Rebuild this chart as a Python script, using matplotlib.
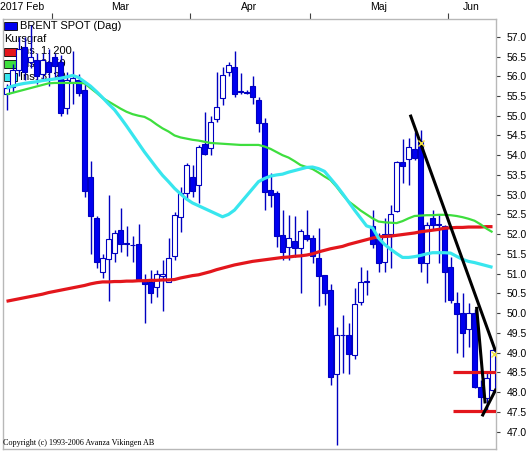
import numpy as np
import matplotlib.pyplot as plt
from matplotlib.patches import Rectangle

# candle data, one per trading day (Feb 17 - Jun 12 2017)
opens = [55.55, 55.72, 56.15, 56.75, 56.35, 56.4, 56.05, 56.35, 56.5, 56.35,
         55.2, 55.85, 55.9, 55.65, 53.45, 52.4, 51.05, 51.37, 51.52, 52.1,
         51.77, 51.73, 51.75, 50.85, 50.8, 50.67, 50.95, 50.8, 51.44, 52.43,
         53.04, 53.45, 53.24, 54.28, 54.18, 54.91, 55.44, 56.1, 56.23, 55.63,
         55.6, 55.75, 55.41, 54.81, 53.12, 53.04, 51.98, 51.67, 51.82, 51.64,
         51.98, 51.9, 51.39, 50.96, 50.58, 48.46, 49.44, 49.45, 48.94, 50.28,
         50.8, 52.2, 51.87, 51.3, 52.0, 52.58, 53.83, 53.9, 54.15, 54.35,
         51.27, 52.4, 52.25, 52.2, 51.17, 50.25, 50.0, 49.59, 50.0, 48.13,
         47.84, 48.05]
highs = [55.8, 56.3, 57.0, 57.0, 57.3, 56.6, 56.6, 56.7, 56.6, 56.55,
         56.1, 56.65, 56.05, 55.8, 53.85, 52.45, 51.5, 53.0, 52.1, 52.65,
         52.2, 51.95, 52.25, 51.0, 51.1, 51.08, 51.35, 51.9, 52.55, 53.2,
         53.8, 53.75, 54.25, 55.1, 55.0, 56.1, 56.23, 56.35, 56.65, 56.08,
         55.65, 56.0, 55.47, 54.95, 53.55, 53.1, 52.6, 52.48, 52.45, 52.12,
         52.6, 51.98, 52.15, 50.97, 50.74, 49.65, 49.95, 49.75, 50.63, 51.17,
         51.1, 52.6, 52.03, 52.4, 52.75, 53.85, 54.4, 54.43, 54.6, 54.65,
         52.3, 52.6, 52.5, 52.22, 51.42, 50.54, 50.5, 50.25, 50.1, 48.3,
         48.5, 49.1]
lows = [55.15, 55.6, 56.0, 55.9, 56.2, 55.8, 55.9, 55.75, 55.95, 55.0,
        55.05, 55.3, 55.5, 52.95, 51.5, 51.15, 50.9, 50.3, 51.3, 51.55,
        51.45, 51.3, 50.85, 49.75, 50.25, 50.4, 50.05, 50.78, 51.35, 52.05,
        52.9, 52.95, 52.8, 54.0, 54.0, 54.85, 55.27, 56.0, 55.47, 55.55,
        55.55, 55.3, 54.6, 52.6, 52.68, 51.67, 51.35, 51.35, 51.42, 50.5,
        51.83, 51.27, 50.18, 50.2, 48.18, 46.66, 48.48, 48.46, 48.84, 50.2,
        50.45, 51.65, 51.04, 51.04, 51.15, 52.55, 53.3, 53.25, 53.88, 51.05,
        50.76, 52.1, 51.27, 50.28, 50.25, 49.0, 48.9, 49.14, 48.1, 47.55,
        47.55, 48.0]
closes = [55.7, 56.15, 56.7, 56.1, 56.5, 56.0, 56.4, 56.1, 56.25, 55.07,
          55.9, 55.95, 55.57, 53.1, 52.45, 51.3, 51.4, 51.87, 52.03, 51.75,
          51.75, 51.72, 50.86, 50.73, 50.5, 51.0, 51.0, 51.4, 52.48, 53.04,
          53.75, 53.09, 54.2, 54.03, 54.84, 55.21, 56.03, 56.28, 55.55, 55.6,
          55.58, 55.47, 54.81, 53.07, 53.0, 51.95, 51.55, 51.9, 51.64, 52.08,
          51.87, 51.45, 50.94, 50.51, 48.38, 49.45, 49.45, 48.97, 50.23, 50.79,
          50.82, 51.75, 51.27, 52.0, 52.5, 53.83, 53.72, 54.2, 53.92, 51.27,
          52.23, 52.23, 52.23, 51.04, 50.33, 49.97, 49.49, 50.0, 48.13, 47.88,
          48.35, 49.06]

# moving averages
ma200 = [50.3, 50.33, 50.36, 50.39, 50.42, 50.45, 50.48, 50.52, 50.55, 50.58,
         50.61, 50.64, 50.67, 50.7, 50.74, 50.77, 50.79, 50.79, 50.8, 50.8,
         50.81, 50.81, 50.82, 50.82, 50.83, 50.83, 50.84, 50.84, 50.85, 50.89,
         50.92, 50.95, 50.97, 51.01, 51.05, 51.1, 51.14, 51.18, 51.22, 51.25,
         51.28, 51.31, 51.33, 51.35, 51.37, 51.39, 51.41, 51.42, 51.44, 51.45,
         51.47, 51.5, 51.55, 51.59, 51.63, 51.66, 51.69, 51.74, 51.78, 51.82,
         51.86, 51.9, 51.93, 51.94, 51.95, 51.97, 51.99, 52.01, 52.03, 52.06,
         52.08, 52.1, 52.12, 52.15, 52.16, 52.17, 52.17, 52.18, 52.18, 52.18,
         52.19, 52.19]
ma50 = [55.54, 55.58, 55.62, 55.66, 55.7, 55.74, 55.78, 55.82, 55.83, 55.83,
        55.83, 55.83, 55.83, 55.82, 55.7, 55.58, 55.45, 55.36, 55.27, 55.18,
        55.1, 55.04, 55.0, 54.97, 54.89, 54.78, 54.68, 54.6, 54.5, 54.45,
        54.42, 54.39, 54.37, 54.34, 54.31, 54.3, 54.29, 54.28, 54.27, 54.26,
        54.26, 54.26, 54.26, 54.22, 54.16, 54.08, 54.0, 53.94, 53.85, 53.75,
        53.7, 53.65, 53.56, 53.46, 53.37, 53.2, 53.0, 52.83, 52.72, 52.6,
        52.5, 52.4, 52.32, 52.3, 52.29, 52.28, 52.33, 52.4, 52.46, 52.47,
        52.48, 52.48, 52.49, 52.49, 52.48, 52.46, 52.43, 52.39, 52.34, 52.25,
        52.14, 52.05]
ma20 = [55.7, 55.75, 55.79, 55.82, 55.84, 55.86, 55.89, 55.91, 55.93, 55.95,
        55.98, 56.02, 55.97, 55.86, 55.75, 55.61, 55.46, 55.3, 55.15, 54.95,
        54.74, 54.52, 54.3, 54.08, 53.88, 53.68, 53.49, 53.33, 53.16, 53.02,
        52.89, 52.79, 52.72, 52.65, 52.58, 52.51, 52.44, 52.5, 52.61, 52.79,
        52.97, 53.15, 53.33, 53.41, 53.47, 53.5, 53.52, 53.57, 53.61, 53.65,
        53.69, 53.7, 53.66, 53.59, 53.41, 53.23, 53.03, 52.82, 52.61, 52.41,
        52.21, 52.16, 51.9, 51.74, 51.62, 51.51, 51.41, 51.41, 51.43, 51.46,
        51.5, 51.53, 51.53, 51.53, 51.52, 51.44, 51.36, 51.31, 51.28, 51.24,
        51.2, 51.16]

# drawn trend lines (candle index, price)
trend1 = ([67.37, 81.42], [54.99, 49.07])
trend2 = ([78.36, 79.75], [50.12, 47.75])
trend3 = ([79.37, 81.5], [47.42, 48.05])
levels = [48.52, 47.53]
level_start = 74.37
alarm_x = [69.08, 81.25]
alarm_y = [54.3, 48.97]

month_edges = [7.5, 30.5, 50.5, 73.5]
month_mid = [19, 40.5, 62, 77.5]
month_names = ["Mar", "Apr", "Maj", "Jun"]
yticks = np.arange(47.0, 57.01, 0.5)

blue = '#0000f0'
edge = '#0000c0'
red = '#e3161c'
green = '#3ede3e'
cyan = '#38e6ee'

plt.rcParams['font.family'] = ['Liberation Sans', 'DejaVu Sans']

W, H = 531, 451
fig = plt.figure(figsize=(W / 100, H / 100), dpi=100)
ax = fig.add_axes([2.5 / W, 1.7 / H, (495.7 - 2.5) / W, (449.3 - 19) / H])

def px(x, y):
    return x / W, 1 - y / H

n = len(opens)
x = np.arange(n)
ax.vlines(x, lows, highs, color=edge, lw=1, zorder=3)
bw = 0.7
for i in range(n):
    o, c = opens[i], closes[i]
    lo = min(o, c)
    h = max(abs(c - o), 0.015)
    fc = 'white' if c >= o else blue
    ax.add_patch(Rectangle((i - bw / 2, lo), bw, h, facecolor=fc,
                           edgecolor=edge, lw=0.8, zorder=4))

ax.plot(x, ma200, color=red, lw=2.3, zorder=5, solid_capstyle='butt')
ax.plot(x, ma50, color=green, lw=1.6, zorder=5, solid_capstyle='butt')
ax.plot(x, ma20, color=cyan, lw=2.3, zorder=5, solid_capstyle='butt')

for lv in levels:
    ax.plot([level_start, 81.53], [lv, lv], color=red, lw=2.3, zorder=6,
            solid_capstyle='butt')
for tx, ty in (trend1, trend2, trend3):
    ax.plot(tx, ty, color='black', lw=2.2, zorder=7)
ax.plot(alarm_x, alarm_y, 'x', color='#f0e040', ms=4, mew=1, zorder=8)

ax.set_xlim(-0.67, 81.53)
ax.set_ylim(46.55, 57.45)

# price axis on the right
ax.yaxis.tick_right()
ax.set_yticks(yticks)
ax.set_yticklabels(["%.1f" % v for v in yticks])
ax.tick_params(axis='y', length=3, width=0.8, color='#404040', pad=5,
               labelsize=7.5)

# months on top
ax.xaxis.tick_top()
ax.set_xticks(month_edges)
ax.set_xticklabels([])
ax.set_xticks(month_mid, minor=True)
ax.set_xticklabels(month_names, minor=True)
ax.tick_params(axis='x', which='major', length=4, width=0.8, color='#404040')
ax.tick_params(axis='x', which='minor', length=0, pad=5, labelsize=7.5)
fig.text(0, 1 - 6.5 / H, "2017 Feb", fontsize=7.5, va='center', ha='left')

for s in ax.spines.values():
    s.set_color('#b8b8b8')
    s.set_linewidth(1)

# legend drawn behind the candles
tf = fig.transFigure
leg_rows = [("BRENT SPOT (Dag)", blue, 26), ("Kursgraf", None, 39),
            ("Ins. 1: 200", red, 51.5), ("Ins. 2: 50", green, 64),
            ("Ins. 3: 20", cyan, 76.5)]
for label, col, yy in leg_rows:
    if col is None:
        ax.text(*px(4, yy), label, transform=tf, fontsize=8, va='center',
                ha='left', zorder=1)
        continue
    x0, y0 = px(4, yy + 4)
    ax.add_patch(Rectangle((x0, y0), 12.5 / W, 8 / H, transform=tf,
                           facecolor=col, edgecolor='black', lw=0.6,
                           zorder=1, clip_on=False))
    ax.text(*px(19.5, yy), label, transform=tf, fontsize=8, va='center',
            ha='left', zorder=1)

fig.text(*px(3, 443), "Copyright (c) 1993-2006 Avanza Vikingen AB",
         fontsize=5.9, family=['Liberation Serif', 'DejaVu Serif'],
         va='center', ha='left')

fig.savefig("out.png", dpi=100)
